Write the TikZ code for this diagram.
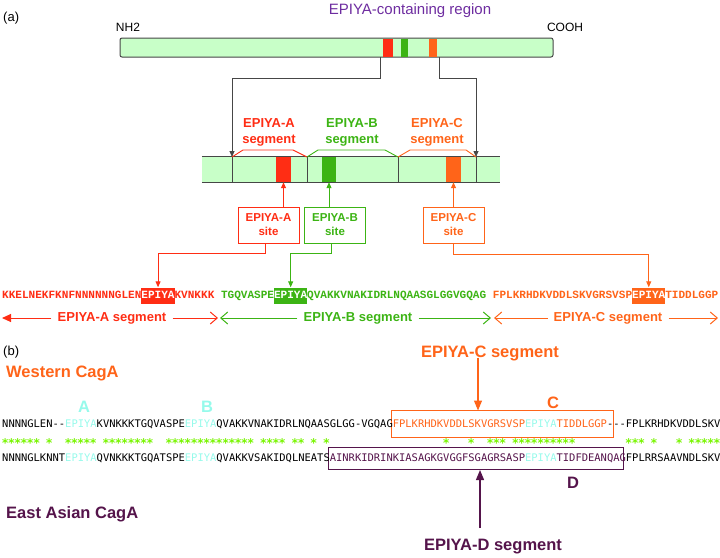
\documentclass[tikz,border=0pt]{standalone}
\usepackage{fontspec}
\setmainfont{Liberation Sans}
\newfontfamily\seqfont{Liberation Mono}
\newfontfamily\alnfont{DejaVu Sans Mono}
\usetikzlibrary{arrows.meta}

\definecolor{epiA}{RGB}{255,45,20}
\definecolor{epiB}{RGB}{60,180,20}
\definecolor{epiC}{RGB}{255,100,25}
\definecolor{epiD}{RGB}{85,20,75}
\definecolor{regpurple}{RGB}{110,45,160}
\definecolor{epicyan}{RGB}{150,250,235}
\definecolor{consgreen}{RGB}{120,245,0}
\definecolor{barfill}{RGB}{200,255,200}
\definecolor{linegray}{RGB}{70,70,70}

% column widths of the two sequence fonts
\def\cwa{6.631}
\def\cwb{6.30}

\begin{document}
\begin{tikzpicture}[x=1pt,y=-1pt,
  lbl/.style={font=\bfseries\fontsize{13}{16}\selectfont, align=center},
  sitebox/.style={draw, line width=0.9pt, fill=white, minimum width=61pt, minimum height=36pt,
    align=center, font=\bfseries\fontsize{11.5}{14}\selectfont},
  bigtxt/.style={font=\bfseries\fontsize{16.5}{18}\selectfont},
  filledhead/.style={-{Triangle[length=6pt,width=5pt]}},
  bighead/.style={-{Triangle[length=10pt,width=8pt]}},
  openhead/.style={-{Straight Barb[length=7pt,width=12pt]}},
  seqa/.style={font=\seqfont\bfseries\fontsize{11.05}{13}\selectfont, anchor=west},
  seqb/.style={font=\alnfont\fontsize{10.465}{12}\selectfont, anchor=west}]
  \tikzstyle{every node}+=[inner sep=0pt]
  \useasboundingbox (0,0) rectangle (720,557);

  % ---- (a) ----
  \node[anchor=west, font=\fontsize{13}{15}\selectfont] (parta) at (3,18) {(a)};
  \node[font=\fontsize{15}{17}\selectfont, text=regpurple] (regtitle) at (410,11) {EPIYA-containing region};
  \node[font=\fontsize{12}{14}\selectfont] (nhtwo) at (128,27) {NH2};
  \node[font=\fontsize{12}{14}\selectfont] (cooh) at (565,27) {COOH};

  \node[draw=linegray, line width=1pt, rounded corners=2pt, fill=barfill,
    minimum width=433pt, minimum height=19pt] (region) at (336.5,47.5) {};
  \fill[epiA] (383,38.5) rectangle (393,56.5);
  \fill[epiB] (401,38.5) rectangle (408,56.5);
  \fill[epiC] (429,38.5) rectangle (437,56.5);
  \coordinate (cutL) at (380,57);
  \coordinate (cutR) at (439,57);

  % segment bar
  \node[fill=barfill, minimum width=298pt, minimum height=25pt] (segbar) at (351,169.5) {};
  \draw[linegray, line width=1pt] (segbar.north west) -- (segbar.north east);
  \draw[linegray, line width=1pt] (segbar.south west) -- (segbar.south east);
  \node[fill=epiA, minimum width=15pt, minimum height=25pt] (blockA) at (283.5,169.5) {};
  \node[fill=epiB, minimum width=14pt, minimum height=25pt] (blockB) at (329,169.5) {};
  \node[fill=epiC, minimum width=15pt, minimum height=25pt] (blockC) at (453.5,169.5) {};
  \foreach \d in {232,307,398,476}
    \draw[linegray, line width=0.8pt] (\d,157) -- (\d,182);
  \coordinate (segL) at (232,157);
  \coordinate (segR) at (476,157);

  \draw[linegray, line width=0.8pt, filledhead] (cutL) -- ++(0,21) -| (segL);
  \draw[linegray, line width=0.8pt, filledhead] (cutR) -- ++(0,21) -| (segR);

  % segment brackets
  \draw[epiA, line width=0.9pt] (232,157) -- (243,150) -- (293,150) -- (307,157);
  \draw[epiB, line width=0.9pt] (307,157) -- (318,150) -- (385,150) -- (398,157);
  \draw[epiC, line width=0.9pt] (398,157) -- (410,150) -- (466,150) -- (476,157);
  \node[lbl, text=epiA] (segAname) at (269,132) {EPIYA-A\\segment};
  \node[lbl, text=epiB] (segBname) at (352,132) {EPIYA-B\\segment};
  \node[lbl, text=epiC] (segCname) at (437,132) {EPIYA-C\\segment};

  % sites
  \node[sitebox, draw=epiA, text=epiA] (siteA) at (268.5,225) {EPIYA-A\\site};
  \node[sitebox, draw=epiB, text=epiB] (siteB) at (335,225) {EPIYA-B\\site};
  \node[sitebox, draw=epiC, text=epiC] (siteC) at (453.5,225) {EPIYA-C\\site};
  \draw[epiA, line width=0.9pt, filledhead] (siteA.north -| blockA) -- (blockA.south);
  \draw[epiB, line width=0.9pt, filledhead] (siteB.north -| blockB) -- (blockB.south);
  \draw[epiC, line width=0.9pt, filledhead] (siteC.north -| blockC) -- (blockC.south);

  % sequence of the EPIYA region
  \node[fill=epiA, minimum width=33.2pt, minimum height=16pt, anchor=west] (epA) at ({2+21*\cwa},295.5) {};
  \node[fill=epiB, minimum width=33.2pt, minimum height=16pt, anchor=west] (epB) at ({2+41*\cwa},295.5) {};
  \node[fill=epiC, minimum width=33.2pt, minimum height=16pt, anchor=west] (epC) at ({2+95*\cwa},295.5) {};
  \node[seqa] (seqtop) at (2,296) {\textcolor{epiA}{KKELNEKFKNFNNNNNNGLEN}\textcolor{white}{EPIYA}\textcolor{epiA}{KVNKKK} \textcolor{epiB}{TGQVASPE}\textcolor{white}{EPIYA}\textcolor{epiB}{QVAKKVNAKIDRLNQAASGLGGVGQAG} \textcolor{epiC}{FPLKRHDKVDDLSKVGRSVSP}\textcolor{white}{EPIYA}\textcolor{epiC}{TIDDLGGP}};

  \draw[epiA, line width=0.9pt, filledhead] ([xshift=-3pt]siteA.south) -- ++(0,10) -| (epA.north);
  \draw[epiB, line width=0.9pt, filledhead] ([xshift=-4pt]siteB.south) -- ++(0,10) -| (epB.north);
  \draw[epiC, line width=0.9pt, filledhead] (siteC.south) -- ++(0,11) -| (epC.north);

  % segment ranges
  \node[lbl, text=epiA] (rangeA) at (112,318) {EPIYA-A segment};
  \node[lbl, text=epiB] (rangeB) at (358,318) {EPIYA-B segment};
  \node[lbl, text=epiC] (rangeC) at (608,318) {EPIYA-C segment};
  \coordinate (startA) at (2,318);
  \coordinate (endA) at (218,318);
  \coordinate (startB) at (220,318);
  \coordinate (endB) at (491,318);
  \coordinate (startC) at (494,318);
  \coordinate (endC) at (718,318);
  \draw[epiA, line width=1pt, -{Triangle[length=9pt,width=8pt]}] ([xshift=-6pt]rangeA.west) -- (startA);
  \draw[epiA, line width=1pt, openhead] ([xshift=6pt]rangeA.east) -- (endA);
  \draw[epiB, line width=1pt, openhead] ([xshift=-6pt]rangeB.west) -- (startB);
  \draw[epiB, line width=1pt, openhead] ([xshift=6pt]rangeB.east) -- (endB);
  \draw[epiC, line width=1pt, openhead] ([xshift=-6pt]rangeC.west) -- (startC);
  \draw[epiC, line width=1pt, openhead] ([xshift=6pt]rangeC.east) -- (endC);

  % ---- (b) ----
  \node[anchor=west, font=\fontsize{13}{15}\selectfont] (partb) at (3,352) {(b)};
  \node[bigtxt, text=epiC] (segChead) at (490,353) {EPIYA-C segment};
  \node[bigtxt, text=epiC, anchor=west] (western) at (6,373) {Western CagA};
  \node[bigtxt, text=epicyan] (labA) at (84,407) {A};
  \node[bigtxt, text=epicyan] (labB) at (207,407) {B};
  \node[bigtxt, text=epiC] (labC) at (553,403) {C};

  \node[draw=epiC, line width=0.9pt, minimum width=222pt, minimum height=27pt, anchor=west] (boxC) at (391,424) {};
  \node[draw=epiD, line width=0.9pt, minimum width=295pt, minimum height=22pt, anchor=west] (boxD) at (328,458) {};

  \node[seqb] (westseq) at (2,424) {NNNNGLEN-\kern0pt-\textcolor{epicyan}{EPIYA}KVNKKKTGQVASPE\textcolor{epicyan}{EPIYA}QVAKKVNAKIDRLNQAASGLGG-VGQAG\textcolor{epiC}{FPLKRHDKVDDLSKVGRSVSP}\textcolor{epicyan}{EPIYA}\textcolor{epiC}{TIDDLGGP}-\kern0pt-\kern0pt-FPLKRHDKVDDLSKV};
  \foreach \c in {0,1,2,3,4,5,7,10,11,12,13,14,16,17,18,19,20,21,22,23,26,27,28,29,30,31,32,33,34,35,36,37,38,39,41,42,43,44,46,47,49,51,70,74,77,78,79,81,82,83,84,85,86,87,88,89,90,99,100,101,103,107,109,110,111,112,113}
    \node[text=consgreen, font=\alnfont\bfseries\fontsize{12}{12}\selectfont] (cons\c) at ({2+(\c+0.5)*\cwb},443) {*};
  \node[seqb] (eastseq) at (2,458) {NNNNGLKNNT\textcolor{epicyan}{EPIYA}QVNKKKTGQATSPE\textcolor{epicyan}{EPIYA}QVAKKVSAKIDQLNEATS\textcolor{epiD}{AINRKIDRINKIASAGKGVGGFSGAGRSASP}\textcolor{epicyan}{EPIYA}\textcolor{epiD}{TIDFDEANQAG}FPLRRSAAVNDLSKV};

  \coordinate (ctip) at (478,410.5);
  \draw[epiC, line width=1.2pt, bighead] ([yshift=3pt]segChead.south -| ctip) -- (ctip);

  \node[bigtxt, text=epiD] (labD) at (573,483) {D};
  \node[bigtxt, text=epiD, anchor=west] (eastern) at (6,514) {East Asian CagA};
  \node[bigtxt, text=epiD] (segDhead) at (493,547) {EPIYA-D segment};
  \coordinate (dtip) at (480,470);
  \coordinate (dfoot) at (480,528);
  \draw[epiD, line width=1.2pt, bighead] (dfoot) -- (dtip);
\end{tikzpicture}
\end{document}
